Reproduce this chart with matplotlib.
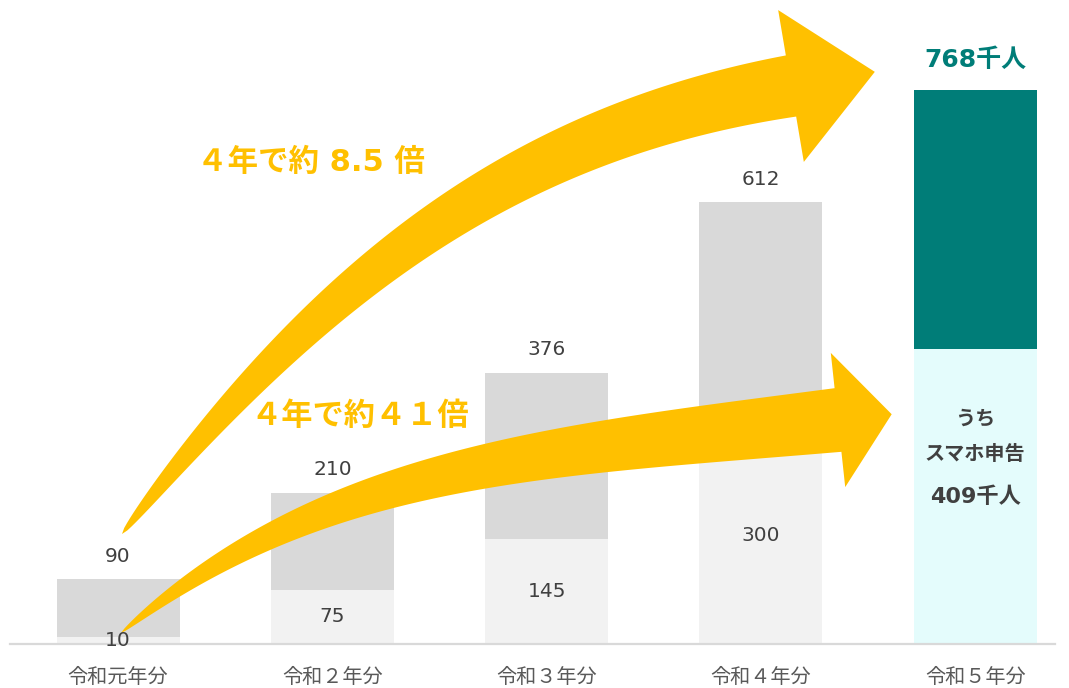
import numpy as np
import matplotlib.pyplot as plt
from matplotlib.patches import Polygon
from matplotlib.transforms import Affine2D

plt.rcParams['font.family'] = ['DejaVu Sans', 'Noto Sans CJK JP']

# e-Tax filings (thousand people): all filings vs. filings made from a smartphone
years = ['令和元年分', '令和２年分', '令和３年分', '令和４年分', '令和５年分']
total = [90, 210, 376, 612, 768]
smartphone = [10, 75, 145, 300, 409]

GOLD = '#ffc000'
TEAL = '#007d78'
TEXT = '#404040'

W, H = 1069, 688


def arrow_outline(p0, p1, p2, p3, shaft_w, head_w, head_len, power, n=150):
    """Curved block arrow: cubic bezier spine that widens from a point."""
    p0, p1, p2, p3 = (np.asarray(p, dtype=float) for p in (p0, p1, p2, p3))
    t = np.linspace(0, 1, n)[:, None]
    u = 1 - t
    spine = u ** 3 * p0 + 3 * u ** 2 * t * p1 + 3 * u * t ** 2 * p2 + t ** 3 * p3
    d = 3 * u ** 2 * (p1 - p0) + 6 * u * t * (p2 - p1) + 3 * t ** 2 * (p3 - p2)
    d /= np.linalg.norm(d, axis=1)[:, None]
    nrm = np.column_stack([-d[:, 1], d[:, 0]])
    half = (shaft_w / 2) * t[:, 0] ** power
    left = spine + nrm * half[:, None]
    right = spine - nrm * half[:, None]
    tip = p3 + d[-1] * head_len
    head = np.array([p3 + nrm[-1] * head_w / 2, tip, p3 - nrm[-1] * head_w / 2])
    return np.vstack([left, head, right[::-1]])


fig = plt.figure(figsize=(W / 100, H / 100), dpi=100)
ax = fig.add_axes([10 / W, 44 / H, 1045 / W, 644 / H])

x = np.arange(len(years))
upper = np.array(total) - np.array(smartphone)
bottom_colors = ['#f2f2f2'] * 4 + ['#e4fcfc']
top_colors = ['#d9d9d9'] * 4 + [TEAL]

ax.bar(x, smartphone, width=0.574, color=bottom_colors, zorder=1)
ax.bar(x, upper, bottom=smartphone, width=0.574, color=top_colors, zorder=1)

ax.set_xlim(-0.504, 4.372)
ax.set_ylim(0, 892.7)

for s in ['top', 'left', 'right']:
    ax.spines[s].set_visible(False)
ax.spines['bottom'].set_color('#d9d9d9')
ax.spines['bottom'].set_linewidth(1.6)
ax.set_yticks([])
ax.set_xticks(x)
ax.set_xticklabels(years, fontsize=14.5, color='#595959')
ax.tick_params(axis='x', length=0, pad=17.5)

# value labels
for i in range(4):
    ax.annotate(str(total[i]), (x[i], total[i]), xytext=(0, 23),
                textcoords='offset pixels', ha='center', va='center',
                fontsize=14.5, color=TEXT, zorder=5)
    ax.text(x[i], smartphone[i] / 2, str(smartphone[i]), ha='center',
            va='center', fontsize=14.5, color=TEXT, zorder=5)

ax.annotate(f'{total[4]}千人', (x[4], total[4]), xytext=(0, 30),
            textcoords='offset pixels', ha='center', va='center',
            fontsize=18, fontweight='bold', color=TEAL, zorder=5)
mid = smartphone[4] / 2
ax.text(x[4], mid, f'{smartphone[4]}千人', ha='center', va='center',
        fontsize=16, fontweight='bold', color=TEXT, zorder=5)
ax.annotate('スマホ申告', (x[4], mid), xytext=(0, 42),
            textcoords='offset pixels', ha='center', va='center',
            fontsize=14.5, fontweight='bold', color=TEXT, zorder=5)
ax.annotate('うち', (x[4], mid), xytext=(0, 77),
            textcoords='offset pixels', ha='center', va='center',
            fontsize=14.5, fontweight='bold', color=TEXT, zorder=5)

# growth arrows, laid out in pixel space (origin top-left)
px = Affine2D().scale(1 / W, -1 / H).translate(0, 1) + fig.transFigure
arrows = [
    arrow_outline((122, 534), (307, 298), (495, 136), (791, 86), 62, 154, 85, 0.55),
    arrow_outline((121, 633), (320, 466), (540, 452), (838, 420), 64, 135, 54, 0.65),
]
for pts in arrows:
    ax.add_patch(Polygon(pts, closed=True, facecolor=GOLD, edgecolor='none',
                         transform=px, clip_on=False, zorder=3))

fig.text(311 / W, 1 - 162 / H, '４年で約 8.5 倍', ha='center', va='center',
         fontsize=22, fontweight='bold', color=GOLD, zorder=6)
fig.text(360 / W, 1 - 416 / H, '４年で約４１倍', ha='center', va='center',
         fontsize=22.5, fontweight='bold', color=GOLD, zorder=6)

fig.savefig('out.png', dpi=100)
